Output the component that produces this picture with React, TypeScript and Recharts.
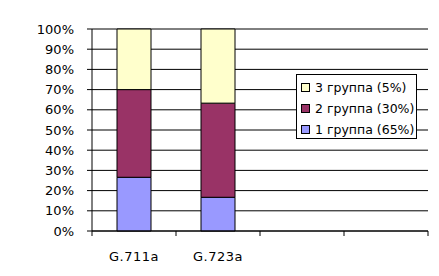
import React from 'react';
import { BarChart, Bar, XAxis, YAxis, CartesianGrid } from 'recharts';

const categories = ['G.711a', 'G.723a', '', ''];
const group1 = [26.6, 16.7, null, null];
const group2 = [43.4, 46.6, null, null];
const group3 = [30, 36.7, null, null];
const yTicks = [0, 10, 20, 30, 40, 50, 60, 70, 80, 90, 100];

const seriesNames = ['1 группа (65%)', '2 группа (30%)', '3 группа (5%)'];
const seriesColors = ['#9999FF', '#993366', '#FFFFCC'];

const data = categories.map((name, i) => ({
  name,
  g1: group1[i],
  g2: group2[i],
  g3: group3[i],
}));

const FONT = '"DejaVu Sans", Verdana, sans-serif';
const W = 439;
const H = 276;
const M = { top: 29, right: 11, left: 0, bottom: 0 };
const Y_W = 92;
const X_H = 45;
const BAND = (W - M.left - M.right - Y_W) / categories.length;

const CategoryTick = (props: any) => {
  const { x, y, payload, index } = props;
  const left = x - BAND / 2;
  const right = x + BAND / 2;
  return (
    <g>
      <line x1={left} y1={y} x2={left} y2={y + 5} stroke="#000" />
      {index === categories.length - 1 && (
        <line x1={right} y1={y} x2={right} y2={y + 5} stroke="#000" />
      )}
      <text
        x={x}
        y={y + 30}
        textAnchor="middle"
        fontFamily={FONT}
        fontSize={13}
        letterSpacing={0.5}
        fill="#000"
      >
        {payload.value}
      </text>
    </g>
  );
};

// legend drawn as an overlay so it doesn't eat plot space
const LegendBox = () => (
  <div
    style={{
      position: 'absolute',
      left: 296,
      top: 74,
      width: 121,
      height: 65,
      boxSizing: 'border-box',
      border: '1px solid #000',
      background: '#fff',
      padding: '2px 0 0 4px',
      fontFamily: FONT,
      fontSize: 12.5,
      color: '#000',
      whiteSpace: 'nowrap',
      overflow: 'hidden',
    }}
  >
    {[2, 1, 0].map((i) => (
      <div key={i} style={{ display: 'flex', alignItems: 'center', height: 21 }}>
        <span
          style={{
            display: 'inline-block',
            flexShrink: 0,
            width: 7,
            height: 7,
            border: '1px solid #000',
            background: seriesColors[i],
            marginRight: 5,
          }}
        />
        <span>{seriesNames[i]}</span>
      </div>
    ))}
  </div>
);

export default function App() {
  return (
    <div style={{ position: 'absolute', left: 0, top: 0, width: W, height: H, background: '#fff' }}>
      <BarChart width={W} height={H} data={data} margin={M} barSize={34}>
        <CartesianGrid vertical={false} stroke="#000" strokeOpacity={1} />
        <XAxis
          dataKey="name"
          height={X_H}
          axisLine={{ stroke: '#000' }}
          tickLine={false}
          tickSize={0}
          tickMargin={0}
          interval={0}
          tick={<CategoryTick />}
        />
        <YAxis
          width={Y_W}
          domain={[0, 100]}
          ticks={yTicks}
          interval={0}
          tickFormatter={(v: number) => `${v}%`}
          axisLine={{ stroke: '#000' }}
          tickLine={{ stroke: '#000' }}
          tickSize={5}
          tickMargin={13}
          tick={{ fill: '#000', fontFamily: FONT, fontSize: 13 }}
        />
        <Bar dataKey="g1" stackId="a" fill={seriesColors[0]} stroke="#000" isAnimationActive={false} />
        <Bar dataKey="g2" stackId="a" fill={seriesColors[1]} stroke="#000" isAnimationActive={false} />
        <Bar dataKey="g3" stackId="a" fill={seriesColors[2]} stroke="#000" isAnimationActive={false} />
      </BarChart>
      <LegendBox />
    </div>
  );
}
